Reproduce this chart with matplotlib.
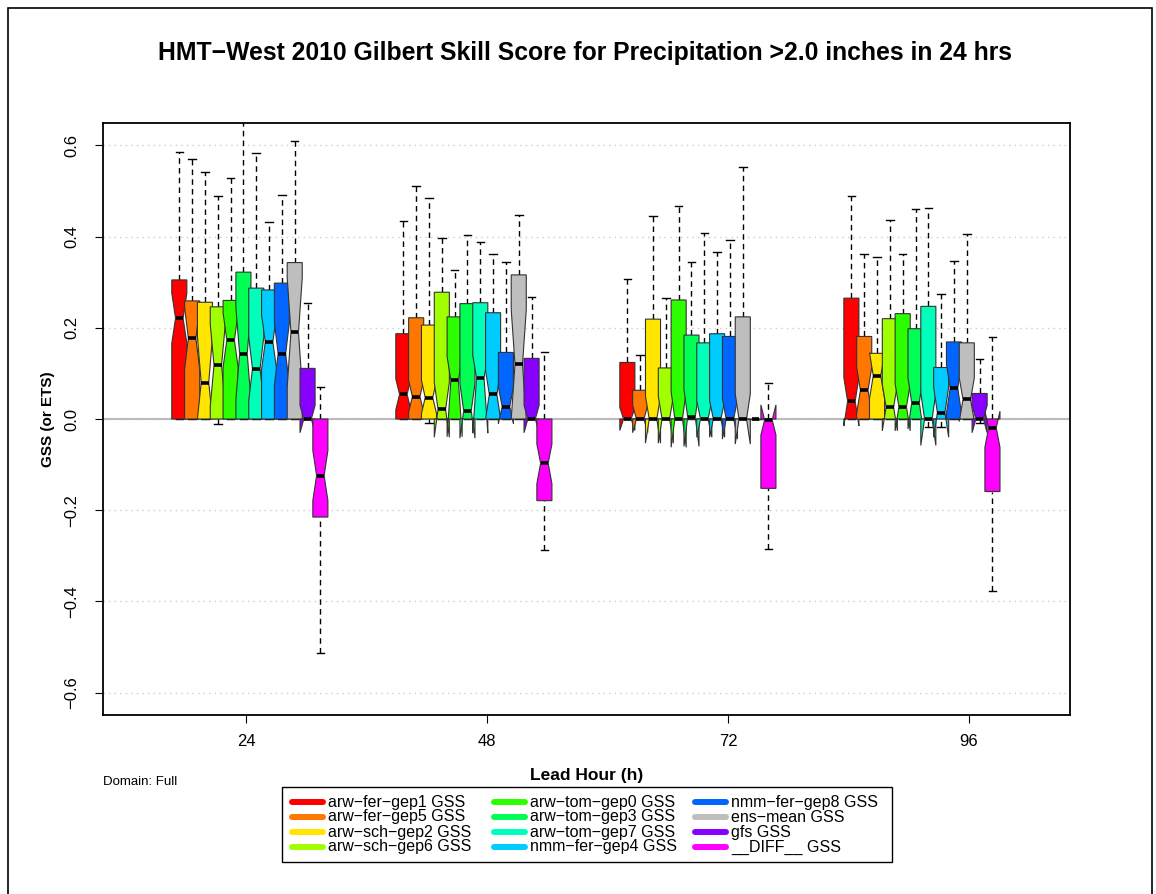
import matplotlib
matplotlib.use("Agg")
import matplotlib.pyplot as plt
from matplotlib.patches import Polygon, Rectangle
from matplotlib.lines import Line2D

plt.rcParams['font.family'] = ['Liberation Sans', 'DejaVu Sans']

# models / colours (same order in every lead-hour group)
models = ["arw−fer−gep1", "arw−fer−gep5", "arw−sch−gep2", "arw−sch−gep6",
          "arw−tom−gep0", "arw−tom−gep3", "arw−tom−gep7", "nmm−fer−gep4",
          "nmm−fer−gep8", "ens−mean", "gfs", "__DIFF__"]
colors = ["#FF0000", "#FF7700", "#FFE500", "#A2FF00", "#2EFF00", "#00FF55",
          "#00FFBB", "#00CCFF", "#0066FF", "#BEBEBE", "#8800FF", "#FF00FF"]

lead_hours = [24, 48, 72, 96]

# box statistics, one row per lead hour
whisk_hi = [
    [0.586, 0.571, 0.542, 0.488, 0.528, 0.700, 0.584, 0.433, 0.491, 0.610, 0.255, 0.070],
    [0.434, 0.510, 0.485, 0.396, 0.326, 0.403, 0.388, 0.361, 0.345, 0.448, 0.267, 0.146],
    [0.306, 0.141, 0.446, 0.265, 0.466, 0.345, 0.408, 0.367, 0.392, 0.553, 0.0, 0.080],
    [0.488, 0.361, 0.356, 0.437, 0.361, 0.461, 0.463, 0.275, 0.346, 0.406, 0.131, 0.179],
]
q3 = [
    [0.305, 0.259, 0.256, 0.246, 0.260, 0.322, 0.287, 0.283, 0.298, 0.343, 0.111, 0.0],
    [0.187, 0.222, 0.206, 0.278, 0.224, 0.253, 0.255, 0.233, 0.146, 0.316, 0.133, 0.0],
    [0.124, 0.063, 0.219, 0.112, 0.261, 0.184, 0.167, 0.187, 0.181, 0.224, 0.0, 0.0],
    [0.265, 0.181, 0.144, 0.220, 0.231, 0.198, 0.247, 0.113, 0.169, 0.167, 0.056, 0.0],
]
medians = [
    [0.221, 0.177, 0.080, 0.118, 0.173, 0.143, 0.110, 0.169, 0.143, 0.190, 0.0, -0.124],
    [0.054, 0.049, 0.047, 0.021, 0.085, 0.018, 0.090, 0.054, 0.027, 0.120, 0.0, -0.097],
    [0.0, 0.0, 0.0, 0.0, 0.0, 0.004, 0.0, 0.0, 0.0, 0.0, 0.0, -0.002],
    [0.039, 0.063, 0.095, 0.026, 0.027, 0.036, 0.0, 0.014, 0.068, 0.043, 0.0, -0.019],
]
q1 = [
    [0.0] * 11 + [-0.215],
    [0.0] * 11 + [-0.179],
    [0.0] * 11 + [-0.152],
    [0.0] * 11 + [-0.159],
]
whisk_lo = [
    [0, 0, 0, -0.012, 0, 0, 0, 0, 0, 0, 0, -0.513],
    [0, 0, -0.009, 0, 0, 0, 0, 0, 0, 0, 0, -0.288],
    [0, 0, 0, 0, 0, 0, 0, 0, 0, 0, 0, -0.284],
    [0, 0, 0, 0, 0, 0, -0.018, -0.018, 0, 0, -0.009, -0.377],
]
notch_hi = [
    [0.276, 0.245, 0.180, 0.208, 0.233, 0.243, 0.180, 0.229, 0.213, 0.310, 0.030, -0.069],
    [0.088, 0.085, 0.085, 0.080, 0.137, 0.078, 0.140, 0.106, 0.070, 0.240, 0.030, -0.055],
    [0.025, 0.030, 0.050, 0.050, 0.060, 0.065, 0.040, 0.040, 0.044, 0.055, 0.0, 0.031],
    [0.091, 0.113, 0.145, 0.076, 0.077, 0.090, 0.058, 0.070, 0.120, 0.090, 0.030, 0.017],
]
notch_lo = [
    [0.166, 0.109, 0.0, 0.028, 0.113, 0.043, 0.040, 0.109, 0.073, 0.070, -0.030, -0.179],
    [0.020, 0.015, 0.012, -0.040, -0.039, -0.042, -0.031, 0.0, -0.010, 0.0, -0.030, -0.142],
    [-0.025, -0.030, -0.053, -0.053, -0.062, -0.060, -0.040, -0.040, -0.044, -0.055, 0.0, -0.035],
    [-0.015, 0.013, 0.045, -0.026, -0.026, -0.022, -0.058, -0.040, 0.012, -0.005, -0.030, -0.062],
]

W, H = 1156, 894
fig = plt.figure(figsize=(W / 100, H / 100), dpi=100)
ax = fig.add_axes([0.0891, 0.2002, 0.8365, 0.6622])

half_w = 0.75      # half box width (hours)
step = 1.277       # distance between boxes
first_box = 17.36  # position of first box of first group
group_step = 22.31
z = 3
for g, lead in enumerate(lead_hours):
    for j in range(len(models)):
        x = first_box + g * group_step + j * step
        lo, a, m, b, hi = whisk_lo[g][j], q1[g][j], medians[g][j], q3[g][j], whisk_hi[g][j]
        clo, chi = notch_lo[g][j], notch_hi[g][j]
        # whiskers + staples
        ax.plot([x, x], [b, hi], color='black', lw=1, ls=(0, (4, 3)), zorder=z)
        ax.plot([x, x], [lo, a], color='black', lw=1, ls=(0, (4, 3)), zorder=z)
        ax.plot([x - half_w / 2, x + half_w / 2], [hi, hi], color='black', lw=1, zorder=z)
        ax.plot([x - half_w / 2, x + half_w / 2], [lo, lo], color='black', lw=1, zorder=z)
        # notched box, R style
        xs = [x - half_w, x + half_w, x + half_w, x + half_w / 2, x + half_w,
              x + half_w, x - half_w, x - half_w, x - half_w / 2, x - half_w]
        ys = [a, a, clo, m, chi, b, b, chi, m, clo]
        ax.add_patch(Polygon(list(zip(xs, ys)), closed=True, facecolor=colors[j],
                             edgecolor='#333333', lw=0.8, zorder=z + 0.1))
        ax.plot([x - half_w / 2, x + half_w / 2], [m, m], color='black', lw=2.6,
                solid_capstyle='butt', zorder=z + 0.2)
        z += 1

ax.set_xlim(9.76, 106.06)
ax.set_ylim(-0.649, 0.649)
yticks = [-0.6, -0.4, -0.2, 0.0, 0.2, 0.4, 0.6]
ax.set_yticks(yticks)
ax.set_yticklabels([f"{v:.1f}".replace("-", "−") for v in yticks], rotation=90, va='center')
ax.set_xticks(lead_hours)
ax.set_xticklabels([str(h) for h in lead_hours])
ax.tick_params(axis='both', labelsize=12, length=6, width=0.8, direction='out')
ax.tick_params(axis='x', pad=8)
ax.tick_params(axis='y', pad=11)
for yv in yticks:
    ax.axhline(yv, color='#CCCCCC', lw=1, ls=(0, (1, 3)), zorder=1)
ax.axhline(0, color='#BBBBBB', lw=1.5, zorder=2)
for s in ax.spines.values():
    s.set_linewidth(1.3)

ax.set_ylabel("GSS (or ETS)", fontsize=11, fontweight='bold', labelpad=7)
ax.set_xlabel("Lead Hour (h)", fontsize=12.5, fontweight='bold', labelpad=13)

fig.text(0.506, 1 - 53 / H, "HMT−West 2010 Gilbert Skill Score for Precipitation >2.0 inches in 24 hrs",
         ha='center', va='center', fontsize=17.8, fontweight='bold')
fig.text(103 / W, 1 - 782 / H, "Domain: Full", ha='left', va='center', fontsize=9.5)

# legend drawn by hand (R style: tight rows, column-major order)
fig.patches.append(Rectangle((282 / W, 1 - 862 / H), 610 / W, 75 / H, transform=fig.transFigure,
                             fill=False, edgecolor='black', lw=1.0))
row_y = [802, 817, 832, 847]
col_x = [292, 494, 695]
for k, (mname, c) in enumerate(zip(models, colors)):
    cx = col_x[k // 4]
    ry = 1 - row_y[k % 4] / H
    fig.lines.append(Line2D([cx / W, (cx + 31) / W], [ry, ry], transform=fig.transFigure,
                            color=c, lw=4.3, solid_capstyle='round'))
    fig.text((cx + 36) / W, ry, f"{mname} GSS", ha='left', va='center', fontsize=11.5)

fig.patches.append(Rectangle((8 / W, -0.01), (1152 - 8) / W, 1 - 8 / H + 0.01,
                             transform=fig.transFigure, fill=False, edgecolor='black', lw=1.2))

fig.savefig("out.png", dpi=100)
